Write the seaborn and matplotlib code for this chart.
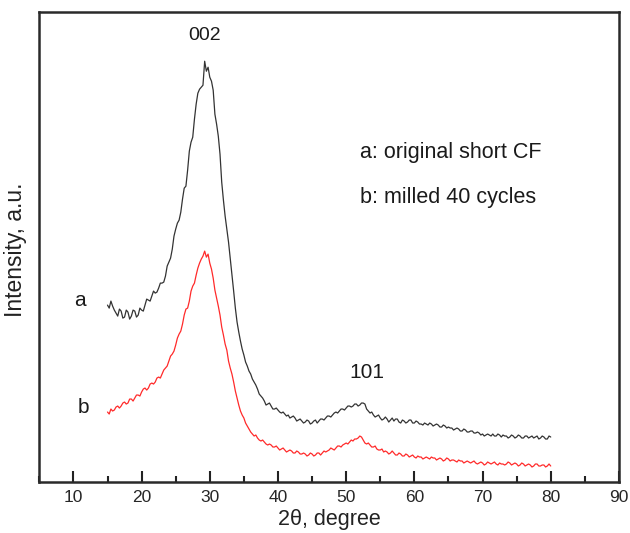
import numpy as np
import pandas as pd
import matplotlib
matplotlib.use("Agg")
import matplotlib.pyplot as plt
import seaborn as sns
from matplotlib.ticker import MultipleLocator

# 2-theta sampling grid (degrees)
two_theta = np.arange(15, 80.001, 0.25)

# a: original short CF (black), intensity a.u.
intensity_a = [
    177, 174, 181, 176, 172, 169, 166, 173, 171, 164, 165, 172, 170, 163, 166, 172, 171, 165, 167, 174,
    172, 171, 177, 183, 182, 181, 186, 191, 189, 190, 194, 199, 199, 200, 206, 216, 220, 224, 233, 246,
    253, 259, 262, 270, 283, 294, 296, 312, 331, 340, 345, 363, 378, 389, 393, 395, 397, 421, 411, 415,
    405, 401, 392, 368, 358, 346, 328, 300, 282, 266, 253, 240, 224, 208, 191, 174, 160, 150, 141, 133,
    127, 120, 116, 111, 108, 103, 100, 97, 93, 88, 86, 84, 81, 77, 78, 79, 76, 73, 73, 74,
    72, 70, 69, 70, 68, 66, 67, 64, 65, 66, 64, 61, 62, 63, 61, 59, 60, 62, 61, 58,
    59, 61, 62, 59, 61, 63, 63, 62, 64, 66, 66, 65, 67, 69, 70, 69, 71, 73, 73, 72,
    74, 76, 76, 75, 76, 78, 78, 76, 77, 79, 79, 78, 73, 71, 69, 70, 67, 65, 66, 67,
    64, 62, 63, 65, 63, 60, 62, 64, 61, 63, 63, 60, 59, 62, 61, 59, 60, 62, 62, 59,
    59, 61, 60, 58, 58, 57, 59, 58, 57, 59, 58, 56, 57, 58, 57, 55, 55, 57, 56, 54,
    55, 54, 54, 52, 53, 54, 53, 51, 51, 53, 52, 50, 50, 51, 51, 49, 49, 50, 49, 47,
    48, 46, 47, 48, 47, 46, 48, 46, 46, 48, 47, 45, 47, 46, 46, 44, 45, 47, 46, 44,
    45, 47, 46, 44, 44, 46, 46, 44, 45, 46, 44, 45, 46, 43, 44, 46, 45, 43, 43, 46,
    45,
]

# b: milled 40 cycles (red), intensity a.u.
intensity_b = [
    70, 68, 73, 71, 72, 75, 76, 74, 76, 79, 80, 78, 79, 83, 83, 81, 84, 87, 87, 86,
    90, 93, 94, 92, 94, 98, 99, 98, 100, 104, 105, 104, 108, 112, 114, 116, 121, 126, 128, 131,
    137, 144, 148, 151, 158, 167, 173, 174, 181, 191, 196, 199, 207, 214, 219, 223, 226, 231, 225, 228,
    219, 213, 204, 192, 184, 176, 167, 155, 147, 138, 132, 121, 114, 108, 100, 91, 84, 77, 71, 67,
    64, 59, 56, 53, 50, 48, 46, 47, 44, 42, 41, 42, 40, 38, 37, 38, 37, 35, 35, 36,
    34, 32, 33, 34, 32, 30, 31, 32, 31, 29, 29, 31, 30, 28, 28, 29, 28, 26, 27, 29,
    28, 26, 27, 29, 29, 27, 29, 31, 30, 31, 32, 34, 33, 32, 34, 36, 36, 35, 37, 38,
    39, 38, 40, 42, 41, 43, 43, 44, 46, 45, 42, 39, 38, 39, 37, 35, 35, 36, 33, 32,
    32, 33, 30, 31, 30, 28, 29, 31, 29, 27, 27, 29, 28, 26, 26, 28, 27, 25, 26, 27,
    25, 24, 26, 25, 25, 23, 24, 25, 24, 23, 25, 24, 24, 22, 23, 24, 23, 21, 22, 24,
    23, 21, 22, 22, 21, 20, 22, 21, 21, 19, 20, 21, 20, 19, 20, 21, 19, 18, 19, 20,
    19, 17, 18, 20, 19, 18, 19, 20, 18, 17, 19, 18, 18, 17, 18, 20, 19, 17, 18, 19,
    18, 16, 17, 19, 18, 16, 17, 18, 17, 15, 16, 18, 18, 16, 16, 17, 17, 15, 16, 18,
    16,
]

series_colors = {"a": "#333333", "b": "#ff2a2a"}
x_ticks = [10, 20, 30, 40, 50, 60, 70, 80, 90]

df = pd.concat([
    pd.DataFrame({"two_theta": two_theta, "intensity": intensity_a, "sample": "a"}),
    pd.DataFrame({"two_theta": two_theta, "intensity": intensity_b, "sample": "b"}),
])

sns.set_theme(style="white")
plt.rcParams["font.family"] = ["Liberation Sans", "DejaVu Sans"]

fig = plt.figure(figsize=(6.3, 5.33), dpi=100)
ax = fig.add_axes([0.0624, 0.0957, 0.92, 0.8813])

sns.lineplot(data=df, x="two_theta", y="intensity", hue="sample",
             palette=series_colors, linewidth=0.9, legend=False, ax=ax,
             estimator=None, sort=False)

ax.set_xlim(5, 90)
ax.set_ylim(0, 470)
ax.set_xticks(x_ticks)
ax.xaxis.set_minor_locator(MultipleLocator(5))
ax.set_yticks([])
ax.tick_params(axis="x", which="major", direction="in", length=8, width=1.5,
               color="#222222", labelsize=12.5, pad=6, bottom=True)
ax.tick_params(axis="x", which="minor", direction="in", length=4, width=1.5,
               color="#222222", bottom=True)
for s in ax.spines.values():
    s.set_color("#2a2a2a")
    s.set_linewidth(1.8)

ax.set_xlabel("2θ, degree", fontsize=15.5, color="#222222", labelpad=3)
ax.set_ylabel("Intensity, a.u.", fontsize=16.5, color="#222222")
ax.yaxis.set_label_coords(-0.021, 0.494)

tc = "#1a1a1a"
ax.text(29.3, 447, "002", fontsize=14, ha="center", va="center", color=tc)
ax.text(53.1, 110, "101", fontsize=15, ha="center", va="center", color=tc)
ax.text(10.9, 182, "a", fontsize=15, ha="center", va="center", color=tc)
ax.text(11.4, 75, "b", fontsize=15, ha="center", va="center", color=tc)
ax.text(52.0, 330, "a: original short CF", fontsize=15.5, ha="left", va="center", color=tc)
ax.text(52.0, 285, "b: milled 40 cycles", fontsize=15.5, ha="left", va="center", color=tc)

fig.savefig("out.png", dpi=100)
